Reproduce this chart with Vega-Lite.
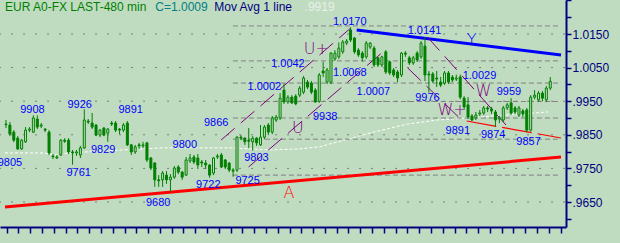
{
"$schema": "https://vega.github.io/schema/vega-lite/v6.json",
"width": 566, "height": 227,
"autosize": {"type": "none"},
"padding": {"left": 0, "top": 0, "right": 54, "bottom": 16},
"background": "#C0DCC0",
"config": {"view": {"stroke": null}, "font": "Liberation Sans",
 "axisX": {"grid": false, "domainColor": "#000080", "domainWidth": 2, "tickColor": "#000080", "tickWidth": 1.5, "tickSize": 6},
 "axisY": {"grid": false, "domainColor": "#000080", "domainWidth": 2, "tickColor": "#000080", "tickWidth": 1.5, "tickSize": 5, "labelColor": "#000080", "labelFont": "Liberation Sans", "labelFontSize": 12, "labelPadding": 1, "labelFlush": false, "labelOverlap": false, "labelBound": false}},
"resolve": {"scale": {"color": "independent"}},
"datasets": {
"candles": [
{"i":-1,"o":0.9882,"h":0.9894,"l":0.9870,"c":0.9880},
{"i":0,"o":0.9879,"h":0.9888,"l":0.9846,"c":0.9852},
{"i":1,"o":0.9858,"h":0.9864,"l":0.9828,"c":0.9834},
{"i":2,"o":0.9840,"h":0.9846,"l":0.9805,"c":0.9808},
{"i":3,"o":0.9808,"h":0.9837,"l":0.9805,"c":0.9834},
{"i":4,"o":0.9829,"h":0.9873,"l":0.9826,"c":0.9864},
{"i":5,"o":0.9864,"h":0.9873,"l":0.9858,"c":0.9867},
{"i":6,"o":0.9858,"h":0.9908,"l":0.9855,"c":0.9900},
{"i":7,"o":0.9897,"h":0.9908,"l":0.9867,"c":0.9873},
{"i":8,"o":0.9876,"h":0.9885,"l":0.9870,"c":0.9879},
{"i":9,"o":0.9867,"h":0.9870,"l":0.9858,"c":0.9864},
{"i":10,"o":0.9858,"h":0.9864,"l":0.9790,"c":0.9796},
{"i":11,"o":0.9787,"h":0.9793,"l":0.9778,"c":0.9785},
{"i":12,"o":0.9781,"h":0.9790,"l":0.9778,"c":0.9784},
{"i":13,"o":0.9790,"h":0.9837,"l":0.9787,"c":0.9834},
{"i":14,"o":0.9834,"h":0.9840,"l":0.9826,"c":0.9831},
{"i":15,"o":0.9834,"h":0.9840,"l":0.9793,"c":0.9799},
{"i":16,"o":0.9799,"h":0.9805,"l":0.9761,"c":0.9796},
{"i":17,"o":0.9796,"h":0.9805,"l":0.9787,"c":0.9799},
{"i":18,"o":0.9790,"h":0.9817,"l":0.9781,"c":0.9811},
{"i":19,"o":0.9811,"h":0.9926,"l":0.9808,"c":0.9894},
{"i":20,"o":0.9891,"h":0.9897,"l":0.9882,"c":0.9888},
{"i":21,"o":0.9885,"h":0.9915,"l":0.9867,"c":0.9873},
{"i":22,"o":0.9879,"h":0.9882,"l":0.9846,"c":0.9849},
{"i":23,"o":0.9849,"h":0.9867,"l":0.9843,"c":0.9864},
{"i":24,"o":0.9870,"h":0.9873,"l":0.9846,"c":0.9849},
{"i":25,"o":0.9855,"h":0.9870,"l":0.9829,"c":0.9867},
{"i":26,"o":0.9885,"h":0.9891,"l":0.9876,"c":0.9882},
{"i":27,"o":0.9885,"h":0.9891,"l":0.9858,"c":0.9864},
{"i":28,"o":0.9867,"h":0.9870,"l":0.9852,"c":0.9864},
{"i":29,"o":0.9864,"h":0.9885,"l":0.9858,"c":0.9879},
{"i":30,"o":0.9885,"h":0.9891,"l":0.9817,"c":0.9820},
{"i":31,"o":0.9820,"h":0.9823,"l":0.9790,"c":0.9799},
{"i":32,"o":0.9799,"h":0.9820,"l":0.9793,"c":0.9814},
{"i":33,"o":0.9820,"h":0.9826,"l":0.9808,"c":0.9817},
{"i":34,"o":0.9817,"h":0.9829,"l":0.9811,"c":0.9820},
{"i":35,"o":0.9826,"h":0.9829,"l":0.9769,"c":0.9775},
{"i":36,"o":0.9781,"h":0.9784,"l":0.9745,"c":0.9751},
{"i":37,"o":0.9766,"h":0.9769,"l":0.9695,"c":0.9716},
{"i":38,"o":0.9716,"h":0.9730,"l":0.9695,"c":0.9713},
{"i":39,"o":0.9716,"h":0.9742,"l":0.9695,"c":0.9736},
{"i":40,"o":0.9730,"h":0.9742,"l":0.9704,"c":0.9716},
{"i":41,"o":0.9716,"h":0.9733,"l":0.9680,"c":0.9724},
{"i":42,"o":0.9724,"h":0.9757,"l":0.9719,"c":0.9751},
{"i":43,"o":0.9754,"h":0.9760,"l":0.9733,"c":0.9739},
{"i":44,"o":0.9739,"h":0.9742,"l":0.9716,"c":0.9724},
{"i":45,"o":0.9730,"h":0.9784,"l":0.9727,"c":0.9775},
{"i":46,"o":0.9772,"h":0.9793,"l":0.9766,"c":0.9781},
{"i":47,"o":0.9784,"h":0.9790,"l":0.9763,"c":0.9769},
{"i":48,"o":0.9781,"h":0.9793,"l":0.9748,"c":0.9760},
{"i":49,"o":0.9769,"h":0.9775,"l":0.9754,"c":0.9766},
{"i":50,"o":0.9766,"h":0.9775,"l":0.9748,"c":0.9760},
{"i":51,"o":0.9760,"h":0.9763,"l":0.9722,"c":0.9730},
{"i":52,"o":0.9736,"h":0.9784,"l":0.9730,"c":0.9781},
{"i":53,"o":0.9784,"h":0.9793,"l":0.9778,"c":0.9787},
{"i":54,"o":0.9790,"h":0.9796,"l":0.9751,"c":0.9754},
{"i":55,"o":0.9775,"h":0.9778,"l":0.9748,"c":0.9754},
{"i":56,"o":0.9766,"h":0.9769,"l":0.9739,"c":0.9745},
{"i":57,"o":0.9745,"h":0.9751,"l":0.9725,"c":0.9742},
{"i":58,"o":0.9745,"h":0.9846,"l":0.9739,"c":0.9843},
{"i":59,"o":0.9843,"h":0.9849,"l":0.9834,"c":0.9840},
{"i":60,"o":0.9840,"h":0.9843,"l":0.9820,"c":0.9829},
{"i":61,"o":0.9834,"h":0.9870,"l":0.9811,"c":0.9831},
{"i":62,"o":0.9829,"h":0.9846,"l":0.9803,"c":0.9840},
{"i":63,"o":0.9840,"h":0.9843,"l":0.9817,"c":0.9826},
{"i":64,"o":0.9820,"h":0.9879,"l":0.9817,"c":0.9843},
{"i":65,"o":0.9843,"h":0.9879,"l":0.9837,"c":0.9873},
{"i":66,"o":0.9879,"h":0.9885,"l":0.9849,"c":0.9858},
{"i":67,"o":0.9858,"h":0.9906,"l":0.9852,"c":0.9900},
{"i":68,"o":0.9894,"h":0.9909,"l":0.9888,"c":0.9903},
{"i":69,"o":0.9900,"h":0.9974,"l":0.9894,"c":0.9959},
{"i":70,"o":0.9983,"h":1.0002,"l":0.9942,"c":0.9948},
{"i":71,"o":0.9948,"h":0.9968,"l":0.9942,"c":0.9962},
{"i":72,"o":0.9962,"h":0.9968,"l":0.9942,"c":0.9945},
{"i":73,"o":0.9965,"h":0.9971,"l":0.9938,"c":0.9942},
{"i":74,"o":0.9968,"h":0.9995,"l":0.9962,"c":0.9989},
{"i":75,"o":0.9977,"h":1.0025,"l":0.9971,"c":1.0019},
{"i":76,"o":1.0007,"h":1.0013,"l":0.9986,"c":0.9992},
{"i":77,"o":1.0004,"h":1.0010,"l":0.9971,"c":0.9977},
{"i":78,"o":0.9983,"h":0.9989,"l":0.9945,"c":0.9948},
{"i":79,"o":0.9950,"h":1.0034,"l":0.9945,"c":1.0028},
{"i":80,"o":1.0040,"h":1.0067,"l":1.0022,"c":1.0034},
{"i":81,"o":1.0007,"h":1.0049,"l":1.0001,"c":1.0043},
{"i":82,"o":1.0007,"h":1.0096,"l":1.0001,"c":1.0093},
{"i":83,"o":1.0076,"h":1.0102,"l":1.0070,"c":1.0093},
{"i":84,"o":1.0082,"h":1.0125,"l":1.0076,"c":1.0108},
{"i":85,"o":1.0097,"h":1.0132,"l":1.0091,"c":1.0126},
{"i":86,"o":1.0123,"h":1.0135,"l":1.0117,"c":1.0129},
{"i":87,"o":1.0162,"h":1.0170,"l":1.0126,"c":1.0132},
{"i":88,"o":1.0138,"h":1.0141,"l":1.0091,"c":1.0097},
{"i":89,"o":1.0102,"h":1.0108,"l":1.0082,"c":1.0088},
{"i":90,"o":1.0093,"h":1.0099,"l":1.0068,"c":1.0079},
{"i":91,"o":1.0082,"h":1.0129,"l":1.0076,"c":1.0123},
{"i":92,"o":1.0111,"h":1.0126,"l":1.0105,"c":1.0123},
{"i":93,"o":1.0108,"h":1.0114,"l":1.0052,"c":1.0058},
{"i":94,"o":1.0079,"h":1.0082,"l":1.0052,"c":1.0058},
{"i":95,"o":1.0058,"h":1.0085,"l":1.0052,"c":1.0082},
{"i":96,"o":1.0097,"h":1.0102,"l":1.0031,"c":1.0037},
{"i":97,"o":1.0067,"h":1.0070,"l":1.0028,"c":1.0034},
{"i":98,"o":1.0043,"h":1.0049,"l":1.0022,"c":1.0028},
{"i":99,"o":1.0037,"h":1.0043,"l":1.0007,"c":1.0019},
{"i":100,"o":1.0028,"h":1.0096,"l":1.0022,"c":1.0093},
{"i":101,"o":1.0093,"h":1.0099,"l":1.0082,"c":1.0090},
{"i":102,"o":1.0079,"h":1.0085,"l":1.0058,"c":1.0064},
{"i":103,"o":1.0064,"h":1.0085,"l":1.0058,"c":1.0079},
{"i":104,"o":1.0093,"h":1.0099,"l":1.0067,"c":1.0073},
{"i":105,"o":1.0082,"h":1.0129,"l":1.0076,"c":1.0123},
{"i":106,"o":1.0114,"h":1.0141,"l":1.0010,"c":1.0028},
{"i":107,"o":1.0028,"h":1.0040,"l":0.9976,"c":1.0031},
{"i":108,"o":1.0031,"h":1.0037,"l":1.0004,"c":1.0010},
{"i":109,"o":1.0019,"h":1.0040,"l":0.9992,"c":1.0016},
{"i":110,"o":1.0007,"h":1.0022,"l":0.9992,"c":0.9998},
{"i":111,"o":1.0004,"h":1.0040,"l":0.9998,"c":1.0034},
{"i":112,"o":1.0034,"h":1.0040,"l":1.0001,"c":1.0007},
{"i":113,"o":1.0022,"h":1.0028,"l":1.0007,"c":1.0013},
{"i":114,"o":1.0016,"h":1.0029,"l":1.0010,"c":1.0019},
{"i":115,"o":1.0022,"h":1.0029,"l":0.9956,"c":0.9962},
{"i":116,"o":0.9959,"h":0.9965,"l":0.9927,"c":0.9933},
{"i":117,"o":0.9939,"h":0.9962,"l":0.9897,"c":0.9903},
{"i":118,"o":0.9906,"h":0.9912,"l":0.9891,"c":0.9894},
{"i":119,"o":0.9900,"h":0.9918,"l":0.9894,"c":0.9909},
{"i":120,"o":0.9912,"h":0.9924,"l":0.9906,"c":0.9915},
{"i":121,"o":0.9915,"h":0.9936,"l":0.9909,"c":0.9930},
{"i":122,"o":0.9930,"h":0.9936,"l":0.9918,"c":0.9927},
{"i":123,"o":0.9927,"h":0.9933,"l":0.9912,"c":0.9921},
{"i":124,"o":0.9918,"h":0.9924,"l":0.9874,"c":0.9894},
{"i":125,"o":0.9897,"h":0.9906,"l":0.9885,"c":0.9900},
{"i":126,"o":0.9894,"h":0.9936,"l":0.9888,"c":0.9930},
{"i":127,"o":0.9930,"h":0.9945,"l":0.9924,"c":0.9939},
{"i":128,"o":0.9945,"h":0.9959,"l":0.9909,"c":0.9915},
{"i":129,"o":0.9930,"h":0.9936,"l":0.9912,"c":0.9918},
{"i":130,"o":0.9909,"h":0.9936,"l":0.9903,"c":0.9930},
{"i":131,"o":0.9921,"h":0.9927,"l":0.9903,"c":0.9912},
{"i":132,"o":0.9924,"h":0.9930,"l":0.9857,"c":0.9864},
{"i":133,"o":0.9864,"h":0.9968,"l":0.9860,"c":0.9962},
{"i":134,"o":0.9962,"h":0.9983,"l":0.9956,"c":0.9968},
{"i":135,"o":0.9954,"h":0.9980,"l":0.9948,"c":0.9974},
{"i":136,"o":0.9974,"h":0.9980,"l":0.9950,"c":0.9959},
{"i":137,"o":0.9954,"h":0.9995,"l":0.9948,"c":0.9989},
{"i":138,"o":0.9989,"h":1.0022,"l":0.9983,"c":1.0009}
],
"ma": [
{"i":-1.25,"p":0.9796},{"i":8.8,"p":0.9796},{"i":11.3,"p":0.9790},{"i":15,"p":0.9796},{"i":23.8,"p":0.9802},{"i":38.9,"p":0.9811},{"i":56.4,"p":0.9811},{"i":66.5,"p":0.9805},{"i":74,"p":0.9808},{"i":79,"p":0.9814},{"i":85.3,"p":0.9834},{"i":92.8,"p":0.9858},{"i":101.6,"p":0.9882},{"i":109.1,"p":0.9894},{"i":116.7,"p":0.9900},{"i":126.7,"p":0.9909},{"i":137.5,"p":0.9918}
],
"lines": [
{"line":"A","i":-1.25,"p":0.96351},{"line":"A","i":140.74,"p":0.97839},
{"line":"Y","i":88.56,"p":1.01619},{"line":"Y","i":140.74,"p":1.00875},
{"line":"U1","i":53.94,"p":0.98345},{"line":"U1","i":87.05,"p":1.01679},
{"line":"U2","i":60.96,"p":0.97542},{"line":"U2","i":95.84,"p":1.01024},
{"line":"W1","i":106.62,"p":1.01411},{"line":"W1","i":126.69,"p":0.98792},
{"line":"W2","i":101.61,"p":1.00488},{"line":"W2","i":115.9,"p":0.98881},
{"line":"R","i":116.66,"p":0.98911},{"line":"R","i":140.74,"p":0.98405},
{"line":"F1","i":56.95,"p":1.0174},{"line":"F1","i":140.74,"p":1.0174},
{"line":"F2","i":56.95,"p":1.0070},{"line":"F2","i":140.74,"p":1.0070},
{"line":"F3","i":56.95,"p":1.0004},{"line":"F3","i":140.74,"p":1.0004},
{"line":"F4","i":56.95,"p":0.9949},{"line":"F4","i":140.74,"p":0.9949},
{"line":"F5","i":56.95,"p":0.9900},{"line":"F5","i":140.74,"p":0.9900},
{"line":"F6","i":56.95,"p":0.9837},{"line":"F6","i":140.74,"p":0.9837},
{"line":"F7","i":56.95,"p":0.9730},{"line":"F7","i":140.74,"p":0.9730}
],
"grid": [{"p":1.015},{"p":1.005},{"p":0.995},{"p":0.985},{"p":0.975},{"p":0.965}],
"nums": [
{"t":"9805","i":0,"p":0.97661},{"t":"9908","i":5.77,"p":0.99238},{"t":"9926","i":17.81,"p":0.99387},{"t":"9891","i":30.86,"p":0.99238},{"t":"9829","i":23.83,"p":0.98048},{"t":"9761","i":17.56,"p":0.97363},{"t":"9800","i":44.66,"p":0.98196},{"t":"9680","i":37.88,"p":0.96470},{"t":"9722","i":50.68,"p":0.97006},{"t":"9725","i":60.71,"p":0.97125},{"t":"9803","i":62.97,"p":0.97810},{"t":"9866","i":52.68,"p":0.98851},{"t":"1.0002","i":64.98,"p":0.99923},{"t":"1.0042","i":71.0,"p":1.00607},{"t":"9938","i":80.53,"p":0.99030},{"t":"1.0068","i":86.8,"p":1.00339},{"t":"1.0007","i":92.82,"p":0.99774},{"t":"1.0170","i":86.8,"p":1.01857},{"t":"1.0141","i":105.87,"p":1.01589},{"t":"9976","i":106.62,"p":0.99595},{"t":"1.0029","i":119.92,"p":1.00250},{"t":"9959","i":127.45,"p":0.99774},{"t":"9891","i":114.4,"p":0.98613},{"t":"9874","i":123.43,"p":0.98494},{"t":"9857","i":132.46,"p":0.98286}
],
"letters": [
{"t":"U","i":73.51,"p":0.98702},{"t":"U+","i":78.27,"p":1.01054},{"t":"W","i":120.92,"p":0.99804},{"t":"W+","i":112.9,"p":0.99238},{"t":"Y","i":117.91,"p":1.01321},{"t":"A","i":71.25,"p":0.96768}
],
"header": [
{"t":"EUR A0-FX LAST-480 min","i":-1.25,"p":1.02304},{"t":"C=1.0009","i":37.13,"p":1.02304},{"t":"Mov Avg 1 line","i":52.18,"p":1.02304},{"t":".9919","i":75.26,"p":1.02304}
]
},
"layer": [
{"data":{"name":"grid"},"mark":{"type":"rule","color":"#606060","strokeWidth":1,"strokeDash":[1.5,10.5],"strokeDashOffset":-1.2},
 "encoding":{
 "y":{"field":"p","type":"quantitative","scale":{"domain":[0.95756,1.02512],"nice":false,"zero":false},"axis":{"orient":"right","values":[0.96,0.965,0.97,0.975,0.98,0.985,0.99,0.995,1.0,1.005,1.01,1.015,1.02,1.025],"labelExpr":"(datum.value < 1.02 && abs(datum.value*100 - floor(datum.value*100) - 0.5) < 0.01) ? (datum.value < 1 ? '.' + substring(format(datum.value,'.4f'), 2) : format(datum.value,'.4f')) : ''","title":null}}}},
{"data":{"name":"ma"},"mark":{"type":"line","color":"#FFFFFF","strokeWidth":1,"strokeDash":[3,2]},
 "encoding":{"x":{"field":"i","type":"quantitative","scale":{"domain":[-1.25,140.74],"nice":false,"zero":false},"axis":{"values":[-0.83,2.18,5.19,8.2,11.21,14.22,17.23,20.24,23.25,26.26,29.27,32.28,35.29,38.3,41.31,44.32,47.33,50.34,53.35,56.36,59.37,62.38,65.39,68.4,71.41,74.42,77.43,80.44,83.45,86.46,89.47,92.48,95.49,98.5,101.51,104.52,107.53,110.54,113.55,116.56,119.57,122.58,125.59,128.6,131.61,134.62,137.63,140.64],"labels":false,"title":null}},
 "y":{"field":"p","type":"quantitative","scale":{"domain":[0.95756,1.02512],"nice":false,"zero":false},"axis":{"orient":"right","values":[0.96,0.965,0.97,0.975,0.98,0.985,0.99,0.995,1.0,1.005,1.01,1.015,1.02,1.025],"labelExpr":"(datum.value < 1.02 && abs(datum.value*100 - floor(datum.value*100) - 0.5) < 0.01) ? (datum.value < 1 ? '.' + substring(format(datum.value,'.4f'), 2) : format(datum.value,'.4f')) : ''","title":null}}}},
{"data":{"name":"lines"},"transform":[{"filter":"indexof(['F1','F2','F3','F4','F5','F6','F7'], datum.line) >= 0"}],"mark":{"type":"line","color":"#808080","strokeWidth":1,"strokeDash":[5,3]},
 "encoding":{"x":{"field":"i","type":"quantitative","scale":{"domain":[-1.25,140.74],"nice":false,"zero":false},"axis":{"values":[-0.83,2.18,5.19,8.2,11.21,14.22,17.23,20.24,23.25,26.26,29.27,32.28,35.29,38.3,41.31,44.32,47.33,50.34,53.35,56.36,59.37,62.38,65.39,68.4,71.41,74.42,77.43,80.44,83.45,86.46,89.47,92.48,95.49,98.5,101.51,104.52,107.53,110.54,113.55,116.56,119.57,122.58,125.59,128.6,131.61,134.62,137.63,140.64],"labels":false,"title":null}},
 "y":{"field":"p","type":"quantitative","scale":{"domain":[0.95756,1.02512],"nice":false,"zero":false},"axis":{"orient":"right","values":[0.96,0.965,0.97,0.975,0.98,0.985,0.99,0.995,1.0,1.005,1.01,1.015,1.02,1.025],"labelExpr":"(datum.value < 1.02 && abs(datum.value*100 - floor(datum.value*100) - 0.5) < 0.01) ? (datum.value < 1 ? '.' + substring(format(datum.value,'.4f'), 2) : format(datum.value,'.4f')) : ''","title":null}},"detail":{"field":"line"}}},
{"data":{"name":"lines"},"transform":[{"filter":"datum.line == 'A'"}],"mark":{"type":"line","color":"#FF0000","strokeWidth":3},
 "encoding":{"x":{"field":"i","type":"quantitative","scale":{"domain":[-1.25,140.74],"nice":false,"zero":false},"axis":{"values":[-0.83,2.18,5.19,8.2,11.21,14.22,17.23,20.24,23.25,26.26,29.27,32.28,35.29,38.3,41.31,44.32,47.33,50.34,53.35,56.36,59.37,62.38,65.39,68.4,71.41,74.42,77.43,80.44,83.45,86.46,89.47,92.48,95.49,98.5,101.51,104.52,107.53,110.54,113.55,116.56,119.57,122.58,125.59,128.6,131.61,134.62,137.63,140.64],"labels":false,"title":null}},
 "y":{"field":"p","type":"quantitative","scale":{"domain":[0.95756,1.02512],"nice":false,"zero":false},"axis":{"orient":"right","values":[0.96,0.965,0.97,0.975,0.98,0.985,0.99,0.995,1.0,1.005,1.01,1.015,1.02,1.025],"labelExpr":"(datum.value < 1.02 && abs(datum.value*100 - floor(datum.value*100) - 0.5) < 0.01) ? (datum.value < 1 ? '.' + substring(format(datum.value,'.4f'), 2) : format(datum.value,'.4f')) : ''","title":null}}}},
{"data":{"name":"lines"},"transform":[{"filter":"datum.line == 'Y'"}],"mark":{"type":"line","color":"#0000FF","strokeWidth":3},
 "encoding":{"x":{"field":"i","type":"quantitative","scale":{"domain":[-1.25,140.74],"nice":false,"zero":false},"axis":{"values":[-0.83,2.18,5.19,8.2,11.21,14.22,17.23,20.24,23.25,26.26,29.27,32.28,35.29,38.3,41.31,44.32,47.33,50.34,53.35,56.36,59.37,62.38,65.39,68.4,71.41,74.42,77.43,80.44,83.45,86.46,89.47,92.48,95.49,98.5,101.51,104.52,107.53,110.54,113.55,116.56,119.57,122.58,125.59,128.6,131.61,134.62,137.63,140.64],"labels":false,"title":null}},
 "y":{"field":"p","type":"quantitative","scale":{"domain":[0.95756,1.02512],"nice":false,"zero":false},"axis":{"orient":"right","values":[0.96,0.965,0.97,0.975,0.98,0.985,0.99,0.995,1.0,1.005,1.01,1.015,1.02,1.025],"labelExpr":"(datum.value < 1.02 && abs(datum.value*100 - floor(datum.value*100) - 0.5) < 0.01) ? (datum.value < 1 ? '.' + substring(format(datum.value,'.4f'), 2) : format(datum.value,'.4f')) : ''","title":null}}}},
{"data":{"name":"lines"},"transform":[{"filter":"indexof(['U1','U2','W1','W2'], datum.line) >= 0"}],"mark":{"type":"line","color":"#800080","strokeWidth":1,"strokeDash":[18,8]},
 "encoding":{"x":{"field":"i","type":"quantitative","scale":{"domain":[-1.25,140.74],"nice":false,"zero":false},"axis":{"values":[-0.83,2.18,5.19,8.2,11.21,14.22,17.23,20.24,23.25,26.26,29.27,32.28,35.29,38.3,41.31,44.32,47.33,50.34,53.35,56.36,59.37,62.38,65.39,68.4,71.41,74.42,77.43,80.44,83.45,86.46,89.47,92.48,95.49,98.5,101.51,104.52,107.53,110.54,113.55,116.56,119.57,122.58,125.59,128.6,131.61,134.62,137.63,140.64],"labels":false,"title":null}},
 "y":{"field":"p","type":"quantitative","scale":{"domain":[0.95756,1.02512],"nice":false,"zero":false},"axis":{"orient":"right","values":[0.96,0.965,0.97,0.975,0.98,0.985,0.99,0.995,1.0,1.005,1.01,1.015,1.02,1.025],"labelExpr":"(datum.value < 1.02 && abs(datum.value*100 - floor(datum.value*100) - 0.5) < 0.01) ? (datum.value < 1 ? '.' + substring(format(datum.value,'.4f'), 2) : format(datum.value,'.4f')) : ''","title":null}},"detail":{"field":"line"}}},
{"data":{"name":"lines"},"transform":[{"filter":"datum.line == 'R'"}],"mark":{"type":"line","color":"#FF0000","strokeWidth":1.2,"strokeDash":[30,6]},
 "encoding":{"x":{"field":"i","type":"quantitative","scale":{"domain":[-1.25,140.74],"nice":false,"zero":false},"axis":{"values":[-0.83,2.18,5.19,8.2,11.21,14.22,17.23,20.24,23.25,26.26,29.27,32.28,35.29,38.3,41.31,44.32,47.33,50.34,53.35,56.36,59.37,62.38,65.39,68.4,71.41,74.42,77.43,80.44,83.45,86.46,89.47,92.48,95.49,98.5,101.51,104.52,107.53,110.54,113.55,116.56,119.57,122.58,125.59,128.6,131.61,134.62,137.63,140.64],"labels":false,"title":null}},
 "y":{"field":"p","type":"quantitative","scale":{"domain":[0.95756,1.02512],"nice":false,"zero":false},"axis":{"orient":"right","values":[0.96,0.965,0.97,0.975,0.98,0.985,0.99,0.995,1.0,1.005,1.01,1.015,1.02,1.025],"labelExpr":"(datum.value < 1.02 && abs(datum.value*100 - floor(datum.value*100) - 0.5) < 0.01) ? (datum.value < 1 ? '.' + substring(format(datum.value,'.4f'), 2) : format(datum.value,'.4f')) : ''","title":null}}}},
{"data":{"name":"candles"},"mark":{"type":"rule","color":"#008000","strokeWidth":1},
 "encoding":{"x":{"field":"i","type":"quantitative","scale":{"domain":[-1.25,140.74],"nice":false,"zero":false},"axis":{"values":[-0.83,2.18,5.19,8.2,11.21,14.22,17.23,20.24,23.25,26.26,29.27,32.28,35.29,38.3,41.31,44.32,47.33,50.34,53.35,56.36,59.37,62.38,65.39,68.4,71.41,74.42,77.43,80.44,83.45,86.46,89.47,92.48,95.49,98.5,101.51,104.52,107.53,110.54,113.55,116.56,119.57,122.58,125.59,128.6,131.61,134.62,137.63,140.64],"labels":false,"title":null}},
 "y":{"field":"l","type":"quantitative","scale":{"domain":[0.95756,1.02512],"nice":false,"zero":false},"axis":{"orient":"right","values":[0.96,0.965,0.97,0.975,0.98,0.985,0.99,0.995,1.0,1.005,1.01,1.015,1.02,1.025],"labelExpr":"(datum.value < 1.02 && abs(datum.value*100 - floor(datum.value*100) - 0.5) < 0.01) ? (datum.value < 1 ? '.' + substring(format(datum.value,'.4f'), 2) : format(datum.value,'.4f')) : ''","title":null}},"y2":{"field":"h"}}},
{"data":{"name":"candles"},"mark":{"type":"bar","orient":"vertical","size":2,"stroke":"#008000","strokeWidth":1},
 "encoding":{"x":{"field":"i","type":"quantitative","scale":{"domain":[-1.25,140.74],"nice":false,"zero":false},"axis":{"values":[-0.83,2.18,5.19,8.2,11.21,14.22,17.23,20.24,23.25,26.26,29.27,32.28,35.29,38.3,41.31,44.32,47.33,50.34,53.35,56.36,59.37,62.38,65.39,68.4,71.41,74.42,77.43,80.44,83.45,86.46,89.47,92.48,95.49,98.5,101.51,104.52,107.53,110.54,113.55,116.56,119.57,122.58,125.59,128.6,131.61,134.62,137.63,140.64],"labels":false,"title":null}},
 "y":{"field":"o","type":"quantitative","scale":{"domain":[0.95756,1.02512],"nice":false,"zero":false},"axis":{"orient":"right","values":[0.96,0.965,0.97,0.975,0.98,0.985,0.99,0.995,1.0,1.005,1.01,1.015,1.02,1.025],"labelExpr":"(datum.value < 1.02 && abs(datum.value*100 - floor(datum.value*100) - 0.5) < 0.01) ? (datum.value < 1 ? '.' + substring(format(datum.value,'.4f'), 2) : format(datum.value,'.4f')) : ''","title":null}},"y2":{"field":"c"},
 "fill":{"condition":{"test":"datum.c > datum.o","value":"#C0DCC0"},"value":"#008000"}}},
{"data":{"name":"nums"},"mark":{"type":"text","color":"#0000FF","font":"Liberation Sans","fontSize":11,"align":"center","baseline":"middle"},
 "encoding":{"x":{"field":"i","type":"quantitative","scale":{"domain":[-1.25,140.74],"nice":false,"zero":false},"axis":{"values":[-0.83,2.18,5.19,8.2,11.21,14.22,17.23,20.24,23.25,26.26,29.27,32.28,35.29,38.3,41.31,44.32,47.33,50.34,53.35,56.36,59.37,62.38,65.39,68.4,71.41,74.42,77.43,80.44,83.45,86.46,89.47,92.48,95.49,98.5,101.51,104.52,107.53,110.54,113.55,116.56,119.57,122.58,125.59,128.6,131.61,134.62,137.63,140.64],"labels":false,"title":null}},
 "y":{"field":"p","type":"quantitative","scale":{"domain":[0.95756,1.02512],"nice":false,"zero":false},"axis":{"orient":"right","values":[0.96,0.965,0.97,0.975,0.98,0.985,0.99,0.995,1.0,1.005,1.01,1.015,1.02,1.025],"labelExpr":"(datum.value < 1.02 && abs(datum.value*100 - floor(datum.value*100) - 0.5) < 0.01) ? (datum.value < 1 ? '.' + substring(format(datum.value,'.4f'), 2) : format(datum.value,'.4f')) : ''","title":null}},"text":{"field":"t"}}},
{"data":{"name":"letters"},"mark":{"type":"text","font":"DejaVu Sans","fontWeight":200,"fontSize":16,"align":"center","baseline":"middle"},
 "encoding":{"x":{"field":"i","type":"quantitative","scale":{"domain":[-1.25,140.74],"nice":false,"zero":false},"axis":{"values":[-0.83,2.18,5.19,8.2,11.21,14.22,17.23,20.24,23.25,26.26,29.27,32.28,35.29,38.3,41.31,44.32,47.33,50.34,53.35,56.36,59.37,62.38,65.39,68.4,71.41,74.42,77.43,80.44,83.45,86.46,89.47,92.48,95.49,98.5,101.51,104.52,107.53,110.54,113.55,116.56,119.57,122.58,125.59,128.6,131.61,134.62,137.63,140.64],"labels":false,"title":null}},
 "y":{"field":"p","type":"quantitative","scale":{"domain":[0.95756,1.02512],"nice":false,"zero":false},"axis":{"orient":"right","values":[0.96,0.965,0.97,0.975,0.98,0.985,0.99,0.995,1.0,1.005,1.01,1.015,1.02,1.025],"labelExpr":"(datum.value < 1.02 && abs(datum.value*100 - floor(datum.value*100) - 0.5) < 0.01) ? (datum.value < 1 ? '.' + substring(format(datum.value,'.4f'), 2) : format(datum.value,'.4f')) : ''","title":null}},"text":{"field":"t"},
 "color":{"field":"t","type":"nominal","scale":{"domain":["U","U+","W","W+","Y","A"],"range":["#800080","#800080","#800080","#800080","#0000FF","#FF0000"]},"legend":null}}},
{"data":{"name":"header"},"mark":{"type":"text","font":"Liberation Sans","fontSize":12,"align":"left","baseline":"middle"},
 "encoding":{"x":{"field":"i","type":"quantitative","scale":{"domain":[-1.25,140.74],"nice":false,"zero":false},"axis":{"values":[-0.83,2.18,5.19,8.2,11.21,14.22,17.23,20.24,23.25,26.26,29.27,32.28,35.29,38.3,41.31,44.32,47.33,50.34,53.35,56.36,59.37,62.38,65.39,68.4,71.41,74.42,77.43,80.44,83.45,86.46,89.47,92.48,95.49,98.5,101.51,104.52,107.53,110.54,113.55,116.56,119.57,122.58,125.59,128.6,131.61,134.62,137.63,140.64],"labels":false,"title":null}},
 "y":{"field":"p","type":"quantitative","scale":{"domain":[0.95756,1.02512],"nice":false,"zero":false},"axis":{"orient":"right","values":[0.96,0.965,0.97,0.975,0.98,0.985,0.99,0.995,1.0,1.005,1.01,1.015,1.02,1.025],"labelExpr":"(datum.value < 1.02 && abs(datum.value*100 - floor(datum.value*100) - 0.5) < 0.01) ? (datum.value < 1 ? '.' + substring(format(datum.value,'.4f'), 2) : format(datum.value,'.4f')) : ''","title":null}},"text":{"field":"t"},
 "color":{"field":"t","type":"nominal","scale":{"domain":["EUR A0-FX LAST-480 min","C=1.0009","Mov Avg 1 line",".9919"],"range":["#008000","#008080","#000080","#E8F0E8"]},"legend":null}}}
]
}
